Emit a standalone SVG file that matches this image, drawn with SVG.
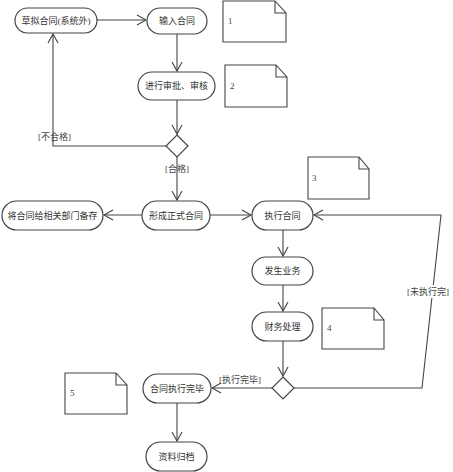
<svg xmlns="http://www.w3.org/2000/svg" width="453" height="472" viewBox="0 0 453 472">
<defs>
<marker id="ar" markerWidth="12" markerHeight="12" refX="10" refY="6" orient="auto" markerUnits="userSpaceOnUse">
<path d="M1,1 L10,6 L1,11" fill="none" stroke="#444" stroke-width="1.1"/>
</marker>
</defs>
<style>
.n{fill:#fff;stroke:#444;stroke-width:1.2}
.t{font-family:"Liberation Serif","Noto Sans CJK SC",serif;font-size:9px;fill:#333;text-anchor:middle}
.l{font-family:"Liberation Serif","Noto Sans CJK SC",serif;font-size:9px;fill:#444}
.c{fill:none;stroke:#444;stroke-width:1.1}
.nt{fill:#fff;stroke:#444;stroke-width:1.1}
</style>
<rect width="453" height="472" fill="#fff"/>
<g id="connectors">
<path class="c" d="M97,20 H146" marker-end="url(#ar)"/>
<path class="c" d="M177,34 V71" marker-end="url(#ar)"/>
<path class="c" d="M177,100 V134" marker-end="url(#ar)"/>
<path class="c" d="M166,146 H53 V34" marker-end="url(#ar)"/>
<path class="c" d="M177,157 V200" marker-end="url(#ar)"/>
<path class="c" d="M142,215 H104" marker-end="url(#ar)"/>
<path class="c" d="M210,215 H251" marker-end="url(#ar)"/>
<path class="c" d="M283,230 V256" marker-end="url(#ar)"/>
<path class="c" d="M283,285 V311" marker-end="url(#ar)"/>
<path class="c" d="M283,341 V376" marker-end="url(#ar)"/>
<path class="c" d="M294,388 H422 L441,215 H314" marker-end="url(#ar)"/>
<path class="c" d="M272,388 H212" marker-end="url(#ar)"/>
<path class="c" d="M177,403 V441" marker-end="url(#ar)"/>
<text class="l" x="38" y="140">[不合格]</text>
<text class="l" x="165" y="172">[合格]</text>
<rect x="407" y="285" width="44" height="13" fill="#fff"/>
<text class="l" x="407" y="295">[未执行完]</text>
<text class="l" x="219" y="383">[执行完毕]</text>
</g>
<g id="n1"><rect class="n" x="15" y="8" width="82" height="25" rx="12.5"/><text class="t" x="56" y="24">草拟合同(系统外)</text></g>
<g id="n2"><rect class="n" x="147" y="8" width="60" height="26" rx="13"/><text class="t" x="177" y="24">输入合同</text></g>
<g id="n3"><rect class="n" x="138" y="72" width="77" height="28" rx="14"/><text class="t" x="176.5" y="89">进行审批、审核</text></g>
<g id="d1"><path class="n" d="M177,135 L188,146 L177,157 L166,146 Z"/></g>
<g id="n4"><rect class="n" x="2" y="201" width="101" height="29" rx="14.5"/><text class="t" x="52.5" y="218.5">将合同给相关部门备存</text></g>
<g id="n5"><rect class="n" x="142" y="201" width="68" height="29" rx="14.5"/><text class="t" x="176" y="218.5">形成正式合同</text></g>
<g id="n6"><rect class="n" x="252" y="201" width="61" height="29" rx="14.5"/><text class="t" x="282.5" y="218.5">执行合同</text></g>
<g id="n7"><rect class="n" x="252" y="257" width="61" height="28" rx="14"/><text class="t" x="282.5" y="274">发生业务</text></g>
<g id="n8"><rect class="n" x="252" y="312" width="61" height="29" rx="14.5"/><text class="t" x="282.5" y="329.5">财务处理</text></g>
<g id="d2"><path class="n" d="M283,377 L294,388 L283,399 L272,388 Z"/></g>
<g id="n9"><rect class="n" x="143" y="374" width="68" height="29" rx="14.5"/><text class="t" x="177" y="391.5">合同执行完毕</text></g>
<g id="n10"><rect class="n" x="146" y="442" width="61" height="29" rx="14.5"/><text class="t" x="176.5" y="459.5">资料归档</text></g>
<g id="note1"><path class="nt" d="M223,1 H275 L286,13 V42 H223 Z M275,1 V13 H286"/><text class="l" x="228" y="24">1</text></g>
<g id="note2"><path class="nt" d="M225,65 H276 L287,77 V107 H225 Z M276,65 V77 H287"/><text class="l" x="230" y="89">2</text></g>
<g id="note3"><path class="nt" d="M308,157 H359 L369,169 V199 H308 Z M359,157 V169 H369"/><text class="l" x="312" y="181">3</text></g>
<g id="note4"><path class="nt" d="M322,308 H374 L384,320 V349 H322 Z M374,308 V320 H384"/><text class="l" x="327" y="331">4</text></g>
<g id="note5"><path class="nt" d="M65,373 H116 L127,385 V414 H65 Z M116,373 V385 H127"/><text class="l" x="70" y="396">5</text></g>
</svg>
